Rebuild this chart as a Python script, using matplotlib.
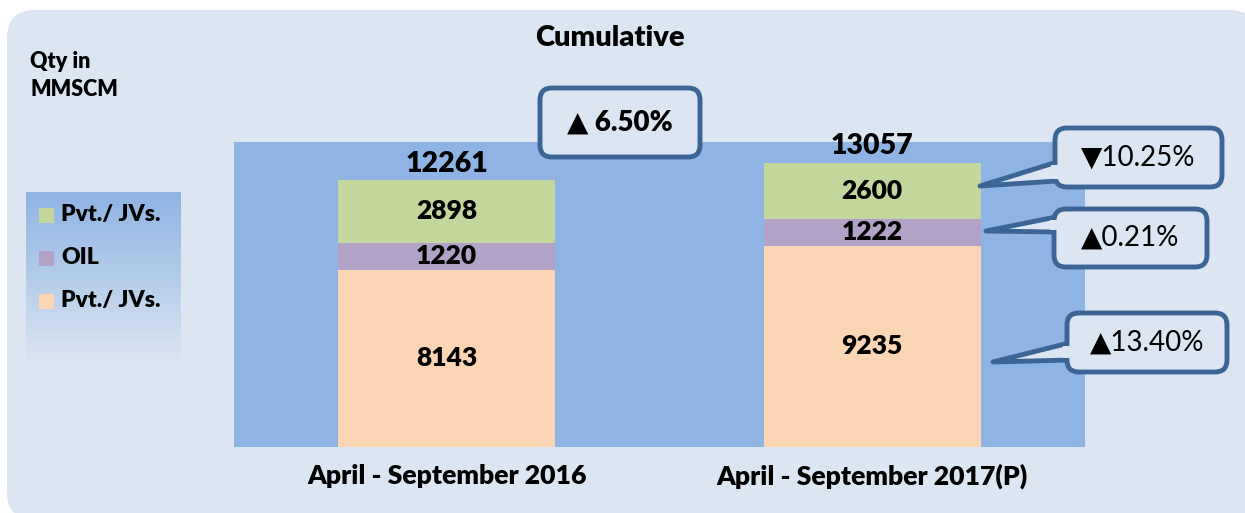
import matplotlib.pyplot as plt
import numpy as np
from matplotlib.patches import FancyBboxPatch, Polygon, Rectangle
from matplotlib.colors import LinearSegmentedColormap

# data
periods = ['April - September 2016', 'April - September 2017(P)']
series = ['Pvt./ JVs.', 'OIL', 'Pvt./ JVs.']   # legend order, top to bottom
peach_vals = [8143, 9235]
oil_vals = [1220, 1222]
green_vals = [2898, 2600]
totals = [12261, 13057]
changes = ['▼10.25%', '▲0.21%', '▲13.40%']
total_change = '▲ 6.50%'

c_bg = '#dce6f2'
c_plot = '#8eb4e3'
c_peach = '#fcd5b5'
c_oil = '#b3a2c7'
c_green = '#c3d69b'
c_edge = '#3a6595'
BOLD = 'heavy'

W, H = 1245, 513
plt.rcParams['font.family'] = ['Lato', 'DejaVu Sans']

fig = plt.figure(figsize=(W / 100, H / 100), dpi=100)
fig.patch.set_facecolor('white')

# background layer in pixel coords
bg = fig.add_axes([0, 0, 1, 1], zorder=0)
bg.set_xlim(0, W)
bg.set_ylim(H, 0)
bg.axis('off')
bg.add_patch(FancyBboxPatch((7, 10), 1250, 510,
                            boxstyle='round,pad=0,rounding_size=28',
                            fc=c_bg, ec='none'))

# main chart
ax = fig.add_axes([234 / W, 1 - 447 / H, (1085 - 234) / W, (447 - 142) / H], zorder=1)
ax.set_facecolor(c_plot)
x = np.arange(len(periods))
bw = 0.51
bottom2 = np.array(peach_vals) + np.array(oil_vals)
ax.bar(x, peach_vals, bw, color=c_peach, edgecolor='none')
ax.bar(x, oil_vals, bw, bottom=peach_vals, color=c_oil, edgecolor='none')
ax.bar(x, green_vals, bw, bottom=bottom2, color=c_green, edgecolor='none')
ax.set_xlim(-0.5, 1.5)
ax.set_ylim(0, 14000)
for sp in ax.spines.values():
    sp.set_visible(False)
ax.set_yticks([])
ax.set_xticks(x)
ax.set_xticklabels(periods, fontsize=19.2, fontweight=BOLD)
ax.tick_params(axis='x', length=0, pad=12)

for i in range(len(periods)):
    ax.text(x[i], peach_vals[i] / 2, str(peach_vals[i]), ha='center', va='center',
            fontsize=19, fontweight=BOLD)
    ax.text(x[i], peach_vals[i] + oil_vals[i] / 2, str(oil_vals[i]), ha='center',
            va='center', fontsize=19, fontweight=BOLD)
    ax.text(x[i], bottom2[i] + green_vals[i] / 2, str(green_vals[i]), ha='center',
            va='center', fontsize=19, fontweight=BOLD)
    ax.text(x[i], totals[i] + 150, str(totals[i]), ha='center', va='bottom',
            fontsize=20.5, fontweight=BOLD)

# overlay for text, legend, callouts
ov = fig.add_axes([0, 0, 1, 1], zorder=3)
ov.set_xlim(0, W)
ov.set_ylim(H, 0)
ov.axis('off')
ov.patch.set_alpha(0)

ov.text(610, 38, 'Cumulative', ha='center', va='center', fontsize=21, fontweight=BOLD)
ov.text(30, 62, 'Qty in', ha='left', va='center', fontsize=15.5, fontweight=BOLD)
ov.text(30, 90, 'MMSCM', ha='left', va='center', fontsize=15.5, fontweight=BOLD)

# legend with gradient
cmap = LinearSegmentedColormap.from_list('lg', [c_plot, c_bg])
grad = np.linspace(0, 1, 256).reshape(-1, 1)
ov.imshow(grad, cmap=cmap, extent=[26, 181, 366, 192], aspect='auto', zorder=1)
ov.set_xlim(0, W)
ov.set_ylim(H, 0)
leg_cols = [c_green, c_oil, c_peach]
for k, (lab, col) in enumerate(zip(series, leg_cols)):
    yy = 215 + k * 43
    ov.add_patch(Rectangle((39, yy - 7.5), 15, 15, fc=col, ec='none', zorder=2))
    ov.text(61, yy, lab, ha='left', va='center', fontsize=16.5, fontweight=BOLD, zorder=2)


def callout(x0, y0, x1, y1, label, weight='normal', tail=None):
    lw = 3.5
    if tail is not None:
        (ya, yb), tip = tail
        ov.add_patch(Polygon([(x0 + 2, ya), tip, (x0 + 2, yb)], closed=True,
                             fc=c_bg, ec=c_edge, lw=lw, joinstyle='round', zorder=4))
    ov.add_patch(FancyBboxPatch((x0, y0), x1 - x0, y1 - y0,
                                boxstyle='round,pad=0,rounding_size=12',
                                fc=c_bg, ec=c_edge, lw=lw, zorder=5))
    if tail is not None:
        ov.add_patch(Rectangle((x0 - 4, ya + 2.5), 9, yb - ya - 5, fc=c_bg,
                               ec='none', zorder=6))
    ov.text((x0 + x1) / 2, (y0 + y1) / 2, label, ha='center', va='center',
            fontsize=20, fontweight=weight, zorder=7)


callout(540, 88, 700, 157, total_change, weight=BOLD)
callout(1055, 128, 1222, 187, changes[0], tail=((162, 181), (980, 186)))
callout(1054, 209, 1207, 267, changes[1], tail=((217, 232), (986, 231)))
callout(1067, 313, 1227, 372, changes[2], tail=((343, 360), (993, 362)))

fig.savefig('out.png', dpi=100, facecolor='white')
